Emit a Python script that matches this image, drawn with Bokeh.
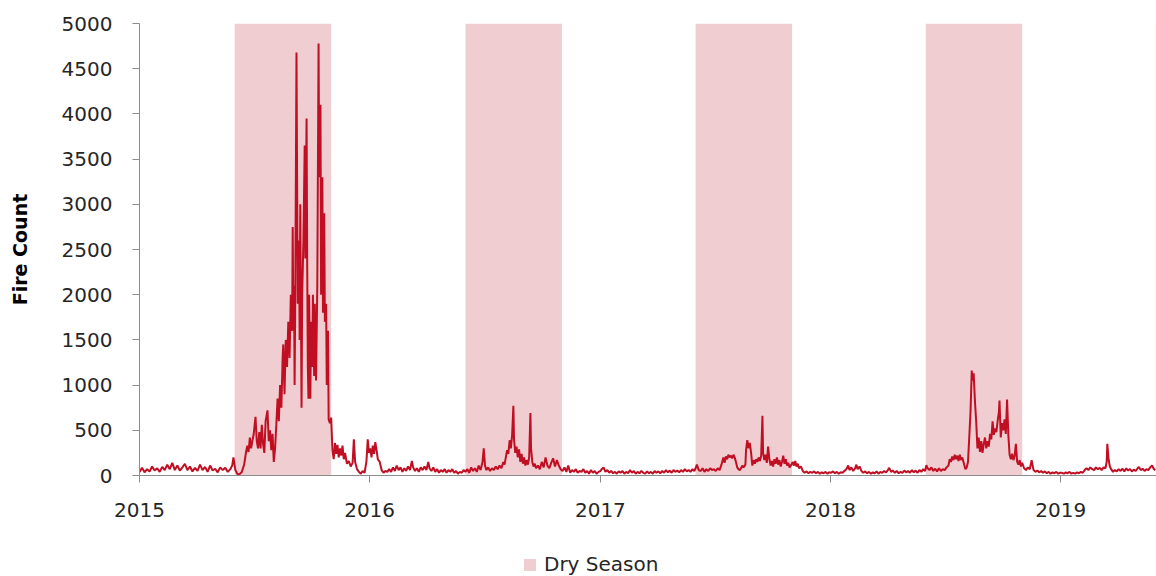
from datetime import datetime
import pandas as pd
from bokeh.plotting import figure
from bokeh.layouts import column
from bokeh.models import (Range1d, FixedTicker, DatetimeTickFormatter, Legend,
                          LegendItem, ColumnDataSource)
from bokeh.embed import file_html
from bokeh.resources import INLINE

# ---------------- data ----------------
fires_2015 = [
    ("01-01", 40), ("01-05", 85), ("01-09", 35), ("01-13", 70), ("01-17", 45), ("01-21", 100), ("01-25", 55), ("01-29", 80),
    ("02-02", 40), ("02-06", 95), ("02-10", 60), ("02-14", 120), ("02-18", 70), ("02-22", 140), ("02-26", 60),
    ("03-02", 110), ("03-06", 55), ("03-10", 90), ("03-14", 130), ("03-18", 60), ("03-22", 100), ("03-26", 45), ("03-30", 85),
    ("04-03", 50), ("04-07", 120), ("04-11", 60), ("04-15", 95), ("04-19", 40), ("04-23", 110), ("04-27", 55),
    ("05-01", 75), ("05-05", 35), ("05-09", 90), ("05-13", 60), ("05-17", 85), ("05-21", 40), ("05-25", 70), ("05-28", 110), ("05-30", 200),
    ("06-02", 60), ("06-05", 20), ("06-08", 10), ("06-12", 35), ("06-16", 120), ("06-19", 260), ("06-21", 330), ("06-23", 260),
    ("06-25", 420), ("06-27", 300), ("06-29", 380),
    ("07-01", 450), ("07-04", 650), ("07-06", 380), ("07-08", 300), ("07-10", 480), ("07-12", 300), ("07-14", 560), ("07-16", 350),
    ("07-18", 250), ("07-20", 600), ("07-23", 720), ("07-25", 380), ("07-27", 500), ("07-29", 280), ("07-31", 460),
    ("08-02", 150), ("08-04", 300), ("08-06", 560), ("08-08", 850), ("08-10", 600), ("08-12", 1000), ("08-14", 750), ("08-16", 1300),
    ("08-17", 1450), ("08-19", 900), ("08-21", 1500), ("08-23", 1200), ("08-25", 1700), ("08-27", 1300), ("08-29", 2000), ("08-31", 1600),
    ("09-01", 2750), ("09-02", 1600), ("09-03", 2100), ("09-04", 1000), ("09-05", 1900), ("09-07", 4680), ("09-08", 3200), ("09-09", 1900),
    ("09-11", 2600), ("09-12", 1500), ("09-13", 3000), ("09-15", 750), ("09-16", 2000), ("09-18", 2600), ("09-20", 3650), ("09-21", 2400),
    ("09-23", 3950), ("09-24", 2300), ("09-25", 1200), ("09-26", 850), ("09-27", 2000), ("09-29", 850), ("09-30", 1700),
    ("10-02", 1200), ("10-03", 2000), ("10-05", 1100), ("10-06", 1900), ("10-08", 1050), ("10-10", 2100), ("10-12", 4780), ("10-13", 3300),
    ("10-15", 4100), ("10-16", 2000), ("10-18", 3300), ("10-19", 1800), ("10-21", 2900), ("10-22", 1700), ("10-24", 1900), ("10-25", 1000),
    ("10-27", 1600), ("10-28", 620), ("10-30", 580),
    ("11-01", 640), ("11-03", 280), ("11-05", 180), ("11-07", 360), ("11-09", 240), ("11-11", 340), ("11-13", 200), ("11-15", 300),
    ("11-17", 220), ("11-19", 330), ("11-21", 180), ("11-23", 250), ("11-26", 130), ("11-29", 160),
    ("12-02", 100), ("12-05", 140), ("12-07", 400), ("12-09", 150), ("12-12", 70), ("12-15", 40), ("12-18", 20), ("12-21", 50),
    ("12-24", 30), ("12-27", 160), ("12-29", 400), ("12-31", 250),
]

fires_2016 = [
    ("01-02", 300), ("01-04", 200), ("01-06", 330), ("01-08", 240), ("01-10", 370), ("01-12", 280), ("01-14", 180), ("01-17", 150),
    ("01-20", 60), ("01-23", 30), ("01-26", 50), ("01-29", 40),
    ("02-01", 70), ("02-04", 40), ("02-07", 90), ("02-10", 50), ("02-13", 110), ("02-16", 60), ("02-19", 90), ("02-22", 40), ("02-25", 80), ("02-28", 50),
    ("03-02", 100), ("03-05", 60), ("03-08", 160), ("03-10", 90), ("03-13", 50), ("03-16", 80), ("03-19", 40), ("03-22", 90), ("03-25", 60),
    ("03-28", 100), ("03-31", 60),
    ("04-03", 150), ("04-05", 80), ("04-08", 50), ("04-11", 90), ("04-14", 40), ("04-17", 70), ("04-20", 30), ("04-23", 60), ("04-26", 40), ("04-29", 70),
    ("05-02", 30), ("05-05", 60), ("05-08", 40), ("05-11", 70), ("05-14", 30), ("05-17", 50), ("05-20", 20), ("05-23", 40), ("05-26", 30), ("05-29", 60),
    ("06-01", 40), ("06-04", 70), ("06-07", 30), ("06-10", 90), ("06-13", 50), ("06-16", 80), ("06-19", 40), ("06-22", 110), ("06-25", 60),
    ("06-28", 150), ("06-30", 300),
    ("07-02", 110), ("07-04", 60), ("07-07", 90), ("07-10", 50), ("07-13", 80), ("07-16", 60), ("07-19", 100), ("07-22", 70), ("07-25", 110),
    ("07-28", 80), ("07-31", 150),
    ("08-02", 120), ("08-04", 200), ("08-06", 280), ("08-08", 240), ("08-10", 390), ("08-12", 300), ("08-14", 450), ("08-16", 770),
    ("08-17", 400), ("08-19", 250), ("08-21", 320), ("08-23", 200), ("08-25", 290), ("08-27", 150), ("08-29", 240), ("08-31", 130),
    ("09-02", 200), ("09-04", 110), ("09-06", 170), ("09-08", 120), ("09-10", 200), ("09-12", 690), ("09-13", 300), ("09-15", 150),
    ("09-17", 100), ("09-19", 130), ("09-21", 80), ("09-24", 110), ("09-27", 70), ("09-30", 150),
    ("10-03", 90), ("10-06", 200), ("10-09", 110), ("10-12", 80), ("10-15", 140), ("10-18", 190), ("10-21", 100), ("10-24", 170),
    ("10-27", 110), ("10-30", 70),
    ("11-02", 50), ("11-05", 90), ("11-08", 40), ("11-11", 110), ("11-14", 30), ("11-17", 60), ("11-20", 40), ("11-23", 70), ("11-26", 30), ("11-29", 50),
    ("12-02", 40), ("12-05", 70), ("12-08", 30), ("12-11", 50), ("12-14", 20), ("12-17", 60), ("12-20", 30), ("12-23", 50), ("12-26", 20), ("12-29", 40),
]

fires_2017 = [
    ("01-01", 50), ("01-03", 70), ("01-06", 90), ("01-09", 40), ("01-12", 60), ("01-15", 30), ("01-18", 50), ("01-21", 25), ("01-24", 40),
    ("01-27", 20), ("01-30", 45),
    ("02-02", 30), ("02-05", 50), ("02-08", 20), ("02-11", 40), ("02-14", 25), ("02-17", 60), ("02-20", 30), ("02-23", 50), ("02-26", 20),
    ("03-01", 40), ("03-04", 25), ("03-07", 50), ("03-10", 30), ("03-13", 20), ("03-16", 45), ("03-19", 25), ("03-22", 40), ("03-25", 20),
    ("03-28", 50), ("03-31", 30),
    ("04-03", 45), ("04-06", 25), ("04-09", 50), ("04-12", 30), ("04-15", 60), ("04-18", 35), ("04-21", 55), ("04-24", 30), ("04-27", 60), ("04-30", 40),
    ("05-03", 55), ("05-06", 35), ("05-09", 60), ("05-12", 40), ("05-15", 70), ("05-18", 45), ("05-21", 60), ("05-24", 40), ("05-27", 70), ("05-30", 50),
    ("06-01", 80), ("06-03", 120), ("06-06", 60), ("06-09", 50), ("06-12", 80), ("06-15", 40), ("06-18", 70), ("06-21", 50), ("06-24", 80),
    ("06-27", 60), ("06-30", 70),
    ("07-03", 50), ("07-06", 80), ("07-09", 60), ("07-12", 120), ("07-15", 200), ("07-17", 140), ("07-19", 210), ("07-21", 180), ("07-23", 230),
    ("07-25", 200), ("07-27", 220), ("07-29", 190), ("07-31", 230),
    ("08-02", 200), ("08-04", 150), ("08-06", 90), ("08-08", 70), ("08-10", 60), ("08-12", 80), ("08-14", 110), ("08-16", 90), ("08-19", 120),
    ("08-20", 280), ("08-22", 390), ("08-24", 300), ("08-26", 360), ("08-28", 250), ("08-30", 110),
    ("09-01", 170), ("09-03", 130), ("09-05", 180), ("09-07", 150), ("09-09", 200), ("09-11", 160), ("09-13", 220), ("09-15", 660),
    ("09-16", 250), ("09-18", 170), ("09-20", 230), ("09-22", 140), ("09-24", 320), ("09-26", 180), ("09-28", 110), ("09-30", 160),
    ("10-02", 100), ("10-04", 180), ("10-06", 130), ("10-08", 200), ("10-10", 120), ("10-12", 170), ("10-14", 100), ("10-16", 150),
    ("10-18", 220), ("10-20", 130), ("10-22", 180), ("10-24", 110), ("10-26", 140), ("10-28", 90), ("10-31", 120),
    ("11-02", 150), ("11-04", 110), ("11-06", 160), ("11-08", 100), ("11-10", 130), ("11-12", 80), ("11-15", 100), ("11-18", 50),
    ("11-21", 30), ("11-24", 45), ("11-27", 25), ("11-30", 40),
    ("12-03", 30), ("12-06", 45), ("12-09", 25), ("12-12", 40), ("12-15", 20), ("12-18", 35), ("12-21", 25), ("12-24", 40), ("12-27", 20), ("12-30", 35),
]

fires_2018 = [
    ("01-02", 30), ("01-05", 45), ("01-08", 25), ("01-11", 40), ("01-14", 20), ("01-17", 35), ("01-20", 30), ("01-23", 50), ("01-26", 70),
    ("01-29", 110), ("01-31", 60),
    ("02-03", 90), ("02-06", 50), ("02-09", 80), ("02-11", 120), ("02-13", 70), ("02-16", 100), ("02-19", 50), ("02-22", 30), ("02-25", 45), ("02-28", 25),
    ("03-03", 40), ("03-06", 20), ("03-09", 35), ("03-12", 25), ("03-15", 45), ("03-18", 20), ("03-21", 40), ("03-24", 30), ("03-27", 50), ("03-30", 35),
    ("04-02", 60), ("04-04", 85), ("04-07", 40), ("04-10", 55), ("04-13", 30), ("04-16", 50), ("04-19", 25), ("04-22", 40), ("04-25", 30), ("04-28", 55),
    ("05-01", 35), ("05-04", 50), ("05-07", 30), ("05-10", 60), ("05-13", 35), ("05-16", 55), ("05-19", 30), ("05-22", 60), ("05-25", 40),
    ("05-28", 70), ("05-31", 50),
    ("06-02", 115), ("06-04", 80), ("06-07", 60), ("06-10", 90), ("06-13", 50), ("06-16", 75), ("06-19", 45), ("06-22", 80), ("06-25", 50), ("06-28", 70),
    ("07-01", 60), ("07-04", 90), ("07-07", 110), ("07-09", 180), ("07-11", 150), ("07-13", 210), ("07-15", 170), ("07-17", 230), ("07-19", 180),
    ("07-21", 220), ("07-23", 160), ("07-25", 230), ("07-27", 170), ("07-29", 200),
    ("08-01", 120), ("08-03", 70), ("08-05", 90), ("08-07", 150), ("08-09", 420), ("08-11", 700), ("08-13", 1160), ("08-14", 1050),
    ("08-16", 1130), ("08-18", 830), ("08-20", 600), ("08-22", 300), ("08-24", 420), ("08-26", 260), ("08-28", 380), ("08-30", 250),
    ("09-01", 350), ("09-03", 420), ("09-05", 300), ("09-07", 380), ("09-09", 320), ("09-11", 460), ("09-13", 400), ("09-15", 600),
    ("09-17", 450), ("09-19", 520), ("09-21", 480), ("09-23", 600), ("09-25", 700), ("09-26", 830), ("09-28", 420), ("09-30", 580),
    ("10-02", 500), ("10-04", 620), ("10-06", 460), ("10-08", 840), ("10-10", 450), ("10-12", 230), ("10-14", 180), ("10-16", 240),
    ("10-18", 170), ("10-20", 220), ("10-22", 350), ("10-24", 150), ("10-26", 120), ("10-28", 170), ("10-30", 100),
    ("11-01", 140), ("11-04", 80), ("11-07", 60), ("11-10", 90), ("11-13", 70), ("11-16", 170), ("11-19", 60), ("11-22", 40), ("11-25", 55), ("11-28", 35),
    ("12-01", 50), ("12-04", 30), ("12-07", 45), ("12-10", 25), ("12-13", 40), ("12-16", 20), ("12-19", 35), ("12-22", 25), ("12-25", 40),
    ("12-28", 20), ("12-31", 30),
]

fires_2019 = [
    ("01-03", 30), ("01-06", 20), ("01-09", 35), ("01-12", 25), ("01-15", 40), ("01-18", 20), ("01-21", 30), ("01-24", 20), ("01-27", 35), ("01-30", 25),
    ("02-02", 40), ("02-05", 30), ("02-08", 60), ("02-11", 80), ("02-14", 60), ("02-17", 90), ("02-20", 70), ("02-23", 60), ("02-26", 90),
    ("03-01", 70), ("03-04", 85), ("03-07", 60), ("03-10", 90), ("03-13", 80), ("03-15", 150), ("03-16", 350), ("03-18", 180), ("03-20", 100),
    ("03-22", 70), ("03-25", 40), ("03-28", 60), ("03-31", 45),
    ("04-03", 70), ("04-06", 50), ("04-09", 75), ("04-12", 45), ("04-15", 80), ("04-18", 55), ("04-21", 70), ("04-24", 45), ("04-27", 65), ("04-30", 50),
    ("05-03", 80), ("05-05", 95), ("05-08", 60), ("05-11", 75), ("05-14", 50), ("05-17", 70), ("05-20", 60), ("05-23", 90), ("05-26", 110),
    ("05-29", 70), ("05-31", 60),
]

dry_start = ["2015-06-01", "2016-06-01", "2017-06-01", "2018-06-01", "2019-06-01"]
dry_end = ["2015-11-01", "2016-11-01", "2017-11-01", "2018-11-01", "2019-11-01"]
year_ticks = [2015, 2016, 2017, 2018, 2019]
y_ticks = [0, 500, 1000, 1500, 2000, 2500, 3000, 3500, 4000, 4500, 5000]

# ---------------- build sources ----------------
dates, counts = [], []
for yr, rows in [(2015, fires_2015), (2016, fires_2016), (2017, fires_2017),
                 (2018, fires_2018), (2019, fires_2019)]:
    for md, v in rows:
        dates.append(f"{yr}-{md}")
        counts.append(v)
line_src = ColumnDataSource(dict(date=pd.to_datetime(dates), count=counts))
dry_src = ColumnDataSource(dict(left=pd.to_datetime(dry_start), right=pd.to_datetime(dry_end)))

FONT = "DejaVu Sans"
TEXT = "#262626"
AXIS = "#8c8c8c"
PINK = "#F0CDD1"

# ---------------- main chart ----------------
p = figure(width=1156, height=536, x_axis_type="datetime",
           output_backend="svg", toolbar_location=None,
           x_range=Range1d(datetime(2015, 1, 1), datetime(2019, 6, 2)),
           y_range=Range1d(0, 5000),
           min_border_left=139, min_border_right=0,
           min_border_top=23, min_border_bottom=61)
p.outline_line_color = None
p.xgrid.visible = False
p.ygrid.visible = False
p.background_fill_color = "white"
p.border_fill_color = "white"

p.quad(left="left", right="right", bottom=0, top=5000, source=dry_src,
       fill_color=PINK, line_color=None)
p.line(x="date", y="count", source=line_src, line_color="#C00F23", line_width=2)

epoch = datetime(1970, 1, 1)
p.xaxis.ticker = FixedTicker(ticks=[(datetime(y, 1, 1) - epoch).total_seconds() * 1000 for y in year_ticks])
p.xaxis.formatter = DatetimeTickFormatter(years="%Y", months="%Y", days="%Y", hours="%Y",
                                          minutes="%Y", seconds="%Y", milliseconds="%Y")
p.yaxis.ticker = FixedTicker(ticks=y_ticks)

for ax in (p.xaxis[0], p.yaxis[0]):
    ax.axis_line_color = AXIS
    ax.major_tick_line_color = AXIS
    ax.minor_tick_line_color = None
    ax.major_tick_in = 0
    ax.major_tick_out = 7
    ax.major_label_text_font = FONT
    ax.major_label_text_font_size = "20px"
    ax.major_label_text_color = TEXT

p.xaxis.major_label_standoff = 20
p.yaxis.major_label_standoff = 20
p.yaxis.axis_label = "Fire Count"
p.yaxis.axis_label_text_font = FONT
p.yaxis.axis_label_text_font_style = "bold"
p.yaxis.axis_label_text_font_size = "19px"
p.yaxis.axis_label_text_color = "#000000"
p.yaxis.axis_label_standoff = 28

# ---------------- legend strip (frame aligned with the chart's frame) ----------------
leg = figure(width=1156, height=40, output_backend="svg", toolbar_location=None,
             x_axis_location=None, y_axis_location=None,
             x_range=p.x_range, y_range=Range1d(10000, 20000),
             min_border=0, min_border_left=139, min_border_right=0,
             min_border_top=0, min_border_bottom=0)
leg.outline_line_color = None
leg.xgrid.visible = False
leg.ygrid.visible = False
# same dry-season quads, lying outside this strip's y-range: only the legend swatch shows
swatch = leg.quad(left="left", right="right", bottom=0, top=5000, source=dry_src,
                  fill_color=PINK, line_color=None)

legend = Legend(items=[LegendItem(label="Dry Season", renderers=[swatch])],
                location=(383, 0), orientation="horizontal",
                glyph_width=15, glyph_height=15, label_standoff=7,
                padding=0, margin=0, border_line_color=None,
                background_fill_alpha=0,
                label_text_font=FONT, label_text_font_size="20px",
                label_text_color=TEXT)
leg.add_layout(legend)

layout = column(p, leg, spacing=0)
open("out.html", "w").write(file_html(layout, INLINE))
